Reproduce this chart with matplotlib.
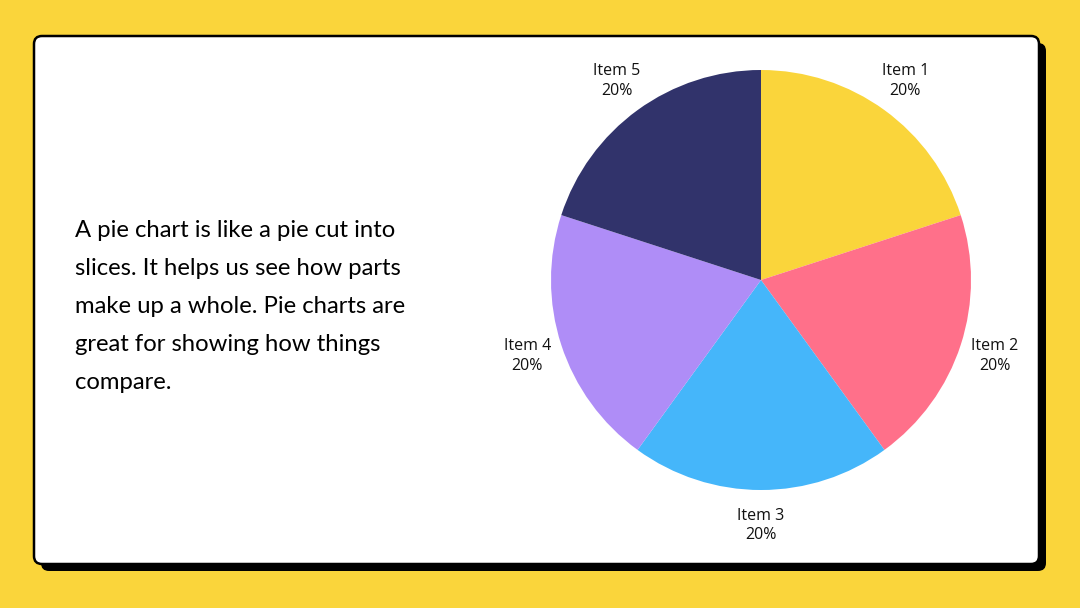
import matplotlib.pyplot as plt
from matplotlib.patches import FancyBboxPatch

# chart data
items = ["Item 1", "Item 2", "Item 3", "Item 4", "Item 5"]
shares = [20, 20, 20, 20, 20]
colors = ["#FAD53B", "#FF708A", "#45B6FA", "#AF8DF7", "#31336B"]
blurb = ("A pie chart is like a pie cut into\n"
         "slices. It helps us see how parts\n"
         "make up a whole. Pie charts are\n"
         "great for showing how things\n"
         "compare.")

W, H = 1080, 608
fig = plt.figure(figsize=(W / 100, H / 100), dpi=100)
fig.patch.set_facecolor("#FAD53B")

# background card drawn in pixel coordinates
bg = fig.add_axes([0, 0, 1, 1])
bg.set_xlim(0, W)
bg.set_ylim(H, 0)
bg.axis("off")
bg.add_patch(FancyBboxPatch((41, 43), 1005, 528, boxstyle="round,pad=0,rounding_size=8",
                            fc="black", ec="none"))
bg.add_patch(FancyBboxPatch((34, 36), 1005, 528, boxstyle="round,pad=0,rounding_size=8",
                            fc="white", ec="black", lw=1.8))

# pie: centre (761, 280), radius 210 px
half = 273
ax = fig.add_axes([(761 - half) / W, (H - 280 - half) / H, 2 * half / W, 2 * half / H])
wedges, texts = ax.pie(shares, colors=colors, startangle=90, counterclock=False,
                       labels=[f"{n}\n{v}%" for n, v in zip(items, shares)],
                       labeldistance=1.17, wedgeprops=dict(linewidth=0),
                       textprops=dict(family="Open Sans", fontsize=11.5, color="#111111"))
for t in texts:
    t.set_ha("center")
    t.set_va("center")
    t.set_linespacing(1.3)
ax.set_xlim(-1.3, 1.3)
ax.set_ylim(-1.3, 1.3)
ax.set_aspect("equal")

fig.text(75 / W, 1 - 220 / H, blurb, ha="left", va="top", fontsize=17.2,
         family="Lato", color="black", linespacing=2.0)

fig.savefig("out.png", dpi=100, facecolor=fig.get_facecolor())
